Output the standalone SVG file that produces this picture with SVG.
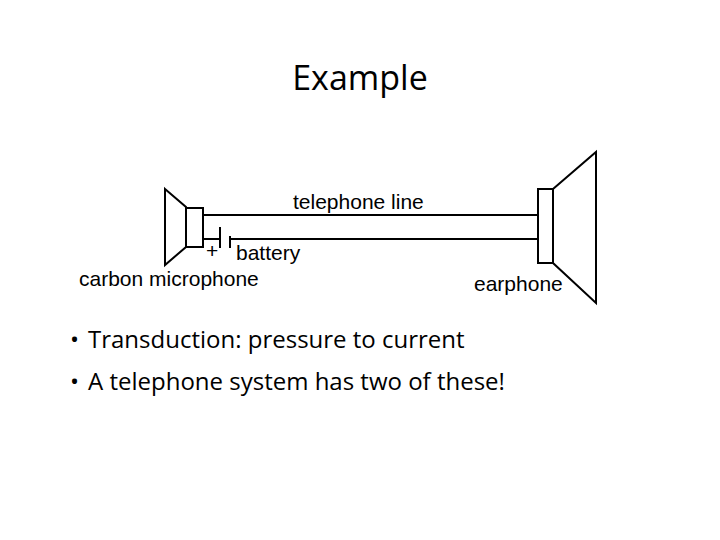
<svg xmlns="http://www.w3.org/2000/svg" width="720" height="540" viewBox="0 0 720 540">
<style>
.d{fill:none;stroke:#000;stroke-width:2}
.l{font-family:"Liberation Sans",Arial,sans-serif;font-size:21px;fill:#000}
.b{font-family:"Open Sans",sans-serif;font-size:24px;fill:#000}
</style>
<rect width="720" height="540" fill="#fff"/>
<text x="360" y="90" text-anchor="middle" font-family="Open Sans, sans-serif" font-size="34" fill="#000">Example</text>
<g id="microphone">
<polygon class="d" points="165,189 186,207 186,247 165,265"/>
<rect class="d" x="186" y="208" width="17" height="39"/>
<text class="l" x="79" y="286">carbon microphone</text>
</g>
<g id="battery">
<line class="d" x1="220" y1="227" x2="220" y2="248"/>
<line class="d" x1="230" y1="236" x2="230" y2="248"/>
<text class="l" x="206" y="258">+</text>
<text class="l" x="236" y="260">battery</text>
</g>
<g id="earphone">
<polygon class="d" points="553,189 596,152 596,303 553,263"/>
<rect class="d" x="538" y="189" width="15" height="74"/>
<text class="l" x="474" y="291">earphone</text>
</g>
<g id="connectors">
<line class="d" x1="203" y1="215" x2="538" y2="215"/>
<line class="d" x1="203" y1="239" x2="220" y2="239"/>
<line class="d" x1="230" y1="239" x2="538" y2="239"/>
<text class="l" x="293" y="209">telephone line</text>
</g>
<g id="bullets">
<text class="b" x="70" y="348">•</text>
<text class="b" x="88" y="348">Transduction: pressure to current</text>
<text class="b" x="70" y="390">•</text>
<text class="b" x="88" y="390">A telephone system has two of these!</text>
</g>
</svg>
